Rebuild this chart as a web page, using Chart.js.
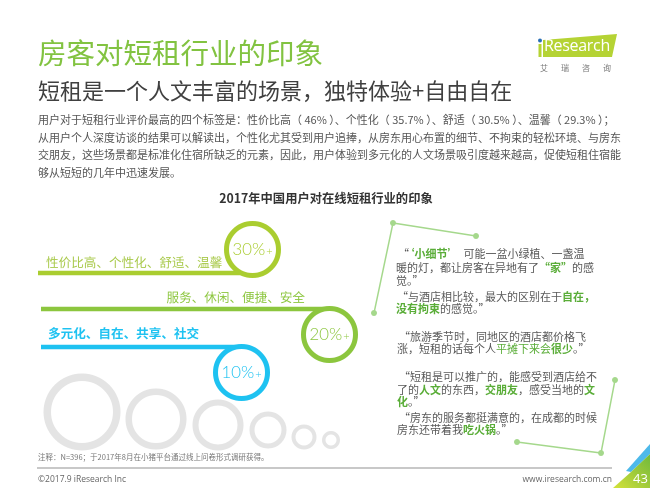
<!DOCTYPE html>
<html><head><meta charset="utf-8">
<script src="https://cdn.jsdelivr.net/npm/chart.js@4.4.0/dist/chart.umd.min.js"></script>
<style>
html,body{margin:0;padding:0;background:#fff;}
#page{position:relative;width:650px;height:488px;overflow:hidden;font-family:"Noto Sans CJK SC","Noto Sans",sans-serif;}
#c{position:absolute;left:0;top:0;width:650px;height:488px;}
.t{position:absolute;white-space:nowrap;line-height:1;}
.p{position:absolute;white-space:nowrap;line-height:1;left:38px;width:574px;font-size:11px;color:#555;text-align:justify;text-align-last:justify;}
.g{color:#5aad38;font-weight:bold;}
.q{position:absolute;white-space:nowrap;line-height:1;font-size:11px;color:#595959;}
</style></head><body>
<div id="page">
<canvas id="c" width="650" height="488"></canvas>

<div class="t" style="left:38px;top:38px;font-size:28.5px;color:#82c341;">房客对短租行业的印象</div>
<div class="t" style="left:38px;top:78px;font-size:22px;color:#404040;">短租是一个人文丰富的场景，独特体验+自由自在</div>

<div class="p" style="top:114px;">用户对于短租行业评价最高的四个标签是：性价比高（ 46% ）、个性化（ 35.7% ）、舒适（ 30.5% ）、温馨（ 29.3% ）；</div>
<div class="p" style="top:132px;">从用户个人深度访谈的结果可以解读出，个性化尤其受到用户追捧，从房东用心布置的细节、不拘束的轻松环境、与房东</div>
<div class="p" style="top:149px;">交朋友，这些场景都是标准化住宿所缺乏的元素，因此，用户体验到多元化的人文场景吸引度越来越高，促使短租住宿能</div>
<div class="t" style="left:38px;top:167px;font-size:11px;color:#555;">够从短短的几年中迅速发展。</div>

<div class="t" style="left:0;width:652px;text-align:center;top:192px;font-size:12.3px;font-weight:bold;color:#333;">2017年中国用户对在线短租行业的印象</div>

<div class="q" style="left:398px;top:248px;">“<span class="g">‘小细节’</span>&nbsp;&nbsp;可能一盆小绿植、一盏温</div>
<div class="q" style="left:396px;top:262px;">暖的灯，都让房客在异地有了<span class="g">“家”</span>的感</div>
<div class="q" style="left:396px;top:275px;">觉。”</div>
<div class="q" style="left:397px;top:291px;">“与酒店相比较，最大的区别在于<span class="g">自在，</span></div>
<div class="q" style="left:396px;top:303px;"><span class="g">没有拘束</span>的感觉。”</div>
<div class="q" style="left:399px;top:331px;">“旅游季节时，同地区的酒店都价格飞</div>
<div class="q" style="left:397px;top:343px;">涨，短租的话每个人<span style="color:#5aad38;">平摊下来会</span><span class="g">很少</span>。”</div>
<div class="q" style="left:399px;top:371px;">“短租是可以推广的，能感受到酒店给不</div>
<div class="q" style="left:397px;top:384px;">了的<span class="g">人文</span>的东西，<span class="g">交朋友</span>，感受当地的<span class="g">文</span></div>
<div class="q" style="left:397px;top:396px;"><span class="g">化</span>。”</div>
<div class="q" style="left:399px;top:412px;">“房东的服务都挺满意的，在成都的时候</div>
<div class="q" style="left:397px;top:424px;">房东还带着我<span class="g">吃火锅</span>。”</div>

<div class="t" style="left:38px;top:453px;font-size:7.5px;color:#777;">注释：N=396；于2017年8月在小猪平台通过线上问卷形式调研获得。</div>
<div style="position:absolute;left:37px;top:467px;width:575px;height:2px;background:#c8c8c8;"></div>
<div class="t" style="left:38px;top:475px;font-size:8.5px;color:#666;font-family:'Open Sans','Noto Sans',sans-serif;">©2017.9 iResearch Inc</div>
<div class="t" style="right:38px;top:475px;font-size:8.5px;color:#666;font-family:'Open Sans','Noto Sans',sans-serif;">www.iresearch.com.cn</div>

<svg style="position:absolute;left:0;top:0;" width="650" height="488">
  <defs>
    <linearGradient id="gg" x1="0" y1="1" x2="1" y2="0">
      <stop offset="0" stop-color="#d4e23a"/>
      <stop offset="0.55" stop-color="#9cc93a"/>
      <stop offset="1" stop-color="#6fba3c"/>
    </linearGradient>
  </defs>
  <polygon points="626,471 650,444 650,454 631,472" fill="#4db9ea"/>
  <polygon points="613,488 631,472 650,454 650,488" fill="url(#gg)"/>
  <polygon points="543,40 617,34 612,57 543,57" fill="#b5d334"/>
  <circle cx="540" cy="40.5" r="2" fill="#2a6fb6"/>
  <rect x="538.5" y="44" width="3" height="13" fill="#b5d334"/>
</svg>
<div class="t" style="left:633px;top:472px;font-size:13px;color:#fff;font-family:'Open Sans','Noto Sans',sans-serif;">43</div>
<div class="t" style="left:544px;top:37px;font-size:16px;color:#fff;font-family:'Open Sans','Noto Sans',sans-serif;letter-spacing:-0.3px;">Research</div>
<div class="t" style="left:540px;top:64px;font-size:8px;color:#777;letter-spacing:13px;">艾瑞咨询</div>
</div>

<script>
// ---- data ----
const tierLabels = ['性价比高、个性化、舒适、温馨', '服务、休闲、便捷、安全', '多元化、自在、共享、社交'];
const tierPercents = [30, 20, 10];
const tierSuffix = '%+';

// ---- layout (positions / sizes / styles, in page pixels) ----
const L = {
  lineStartX: [38, 41, 41],
  lineY: [273, 309, 347],
  ringX: [252.5, 329.5, 241.5],
  ringY: [249.5, 334.5, 372.5],
  ringRadius: 26,
  ringWidth: 5,
  colors: ['#aacd30', '#8cc63e', '#1ec2f1'],
  textColors: ['#a8c94a', '#8cc63e', '#1ec2f1'],
  labelX: [46, 305, 48],
  labelY: [262, 297, 333],
  labelAlign: ['left', 'right', 'left'],
  labelBold: [false, false, true],
  greyX: [82, 156, 218, 268, 304, 331],
  greyY: [412, 419, 425, 430, 437, 440],
  greyOuter: [38.5, 30.5, 25.5, 18.5, 12.5, 9],
  greyWidth: [7.5, 6.5, 6, 5, 4, 3.5],
  decoA: [[476, 236], [393, 223], [374, 313]],
  decoB: [[615, 380], [601, 453], [517, 442]]
};

const datasets = [];
// tier rings (top)
tierPercents.forEach((v, i) => {
  datasets.push({
    type: 'scatter', order: 0,
    data: [{x: L.ringX[i], y: L.ringY[i]}],
    pointRadius: L.ringRadius, pointBorderWidth: L.ringWidth,
    pointBackgroundColor: '#fff', pointBorderColor: L.colors[i],
    pointHoverRadius: L.ringRadius, clip: false
  });
});
// tier lines
tierLabels.forEach((lab, i) => {
  datasets.push({
    type: 'line', order: 1, label: lab,
    data: [{x: L.lineStartX[i], y: L.lineY[i]}, {x: L.ringX[i], y: L.lineY[i]}],
    borderColor: L.colors[i], borderWidth: 4.5, pointRadius: 0, borderCapStyle: 'butt', clip: false
  });
});
// decorative grey rings
L.greyX.forEach((gx, k) => {
  datasets.push({
    type: 'scatter', order: 2,
    data: [{x: gx, y: L.greyY[k]}],
    pointRadius: L.greyOuter[k] - L.greyWidth[k] / 2,
    pointBorderWidth: L.greyWidth[k],
    pointBackgroundColor: '#fff', pointBorderColor: '#e4e4e4', clip: false
  });
});
// decorative quote frame lines
[L.decoA, L.decoB].forEach(seg => {
  datasets.push({
    type: 'line', order: 3,
    data: seg.map(p => ({x: p[0], y: p[1]})),
    borderColor: '#a5d88c', borderWidth: 1.5,
    pointRadius: 3, pointBackgroundColor: '#a5d88c', pointBorderWidth: 0, clip: false
  });
});

const textPlugin = {
  id: 'tierText',
  afterDatasetsDraw(chart) {
    const {ctx, scales: {x, y}} = chart;
    ctx.save();
    ctx.textBaseline = 'middle';
    tierLabels.forEach((lab, i) => {
      ctx.font = (L.labelBold[i] ? 'bold ' : '') + '12.6px "Noto Sans CJK SC"';
      ctx.fillStyle = L.textColors[i];
      ctx.textAlign = L.labelAlign[i];
      ctx.fillText(lab, x.getPixelForValue(L.labelX[i]), y.getPixelForValue(L.labelY[i]));

      const cx = x.getPixelForValue(L.ringX[i]), cy = y.getPixelForValue(L.ringY[i]);
      const main = String(tierPercents[i]) + tierSuffix.charAt(0);
      const plus = tierSuffix.slice(1);
      ctx.font = '300 17px Lato, "Noto Sans"';
      const w1 = ctx.measureText(main).width;
      ctx.font = '300 11px Lato, "Noto Sans"';
      const w2 = ctx.measureText(plus).width;
      const sx = cx - (w1 + w2 + 1) / 2;
      ctx.textAlign = 'left';
      ctx.fillStyle = L.colors[i];
      ctx.font = '300 17px Lato, "Noto Sans"';
      ctx.fillText(main, sx, cy);
      ctx.font = '300 11px Lato, "Noto Sans"';
      ctx.fillText(plus, sx + w1 + 1, cy + 2);
    });
    ctx.restore();
  }
};

new Chart(document.getElementById('c'), {
  type: 'scatter',
  data: {datasets},
  options: {
    responsive: false, animation: false, devicePixelRatio: 2,
    layout: {padding: 0, autoPadding: false},
    plugins: {legend: {display: false}, tooltip: {enabled: false}},
    events: [],
    scales: {
      x: {type: 'linear', min: 0, max: 650, display: false},
      y: {type: 'linear', min: 0, max: 488, reverse: true, display: false}
    }
  },
  plugins: [textPlugin]
});
</script>
</body></html>
